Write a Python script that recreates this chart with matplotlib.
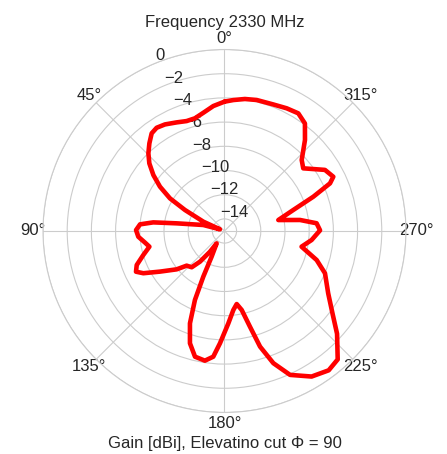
import numpy as np
import matplotlib
matplotlib.use("Agg")
import matplotlib.pyplot as plt
import seaborn as sns

# elevation cut, phi = 90 (theta in deg, gain in dBi)
theta_deg = [0, 5.1, 10.1, 14.7, 19.0, 23.8, 29.2, 33.3, 36.7, 40.6, 44.4, 48.0,
             51.8, 55.5, 59.1, 62.0, 66.2, 69.7, 74.2, 80.9, 83.1, 85.5, 89.4,
             93.8, 98.3, 101.8, 106.5, 111.2, 114.7, 117.5, 122.2, 128.7, 132.5,
             137.9, 141.4, 145.0, 147.6, 153.4, 155.1, 156.8, 159.5, 162.9, 166.8,
             171.4, 174.9, 177.7, 182.4, 186.4, 189.5, 192.3, 194.9, 197.1, 200.3,
             204.5, 210.9, 216.8, 221.4, 227.6, 232.7, 239.0, 247.2, 252.5, 258.5,
             264.1, 270.4, 274.8, 278.3, 281.5, 287.0, 291.1, 294.3, 296.5, 301.3,
             308.5, 312.6, 318.5, 323.2, 327.9, 333.1, 338.9, 346.2, 351.2, 356.1,
             360]
gain_dbi = [-4.31, -4.63, -5.07, -5.37, -5.39, -5.19, -4.91, -4.79, -4.93, -5.46,
            -6.01, -6.64, -7.52, -8.53, -9.75, -11.3, -13.09, -14.6, -13.18, -11.0,
            -9.07, -8.0, -7.69, -7.86, -8.36, -8.66, -8.0, -7.22, -6.95, -7.44,
            -8.70, -9.93, -10.76, -10.96, -11.76, -12.91, -13.79, -12.63, -10.84,
            -8.8, -6.85, -5.29, -4.33, -4.16, -4.57, -5.71, -7.36, -8.43, -8.88,
            -8.32, -6.82, -5.0, -3.35, -1.93, -0.98, -0.62, -0.85, -2.4, -3.78,
            -5.0, -5.99, -7.01, -8.5, -7.76, -7.1, -7.36, -8.69, -10.46, -9.05,
            -7.13, -5.43, -4.95, -5.28, -6.68, -6.33, -4.96, -3.9, -3.52, -3.63,
            -3.79, -3.85, -3.96, -4.15, -4.31]
r_ticks = [-14, -12, -10, -8, -6, -4, -2, 0]

sns.set_style("whitegrid")
plt.rcParams['font.family'] = ['Liberation Sans', 'DejaVu Sans']

fig = plt.figure(figsize=(4.47, 4.54), dpi=100)
ax = fig.add_axes([0.0962, 0.0914, 0.812, 0.7996], projection='polar')
ax.set_theta_zero_location('N')
ax.set_theta_direction(1)

ax.plot(np.deg2rad(theta_deg), gain_dbi, color='red', lw=3.3,
        solid_joinstyle='round', solid_capstyle='round')

ax.set_rlim(-15, 0)
ax.set_rticks(r_ticks)
ax.set_thetagrids(range(0, 360, 45))
ax.tick_params(labelsize=12)
ax.tick_params(axis='x', pad=-2.9)
ax.set_title("Frequency 2330 MHz", fontsize=12, y=1.063, pad=0)
ax.set_xlabel("Gain [dBi], Elevatino cut \u03a6 = 90", fontsize=12)

fig.savefig("out.png", dpi=100)
